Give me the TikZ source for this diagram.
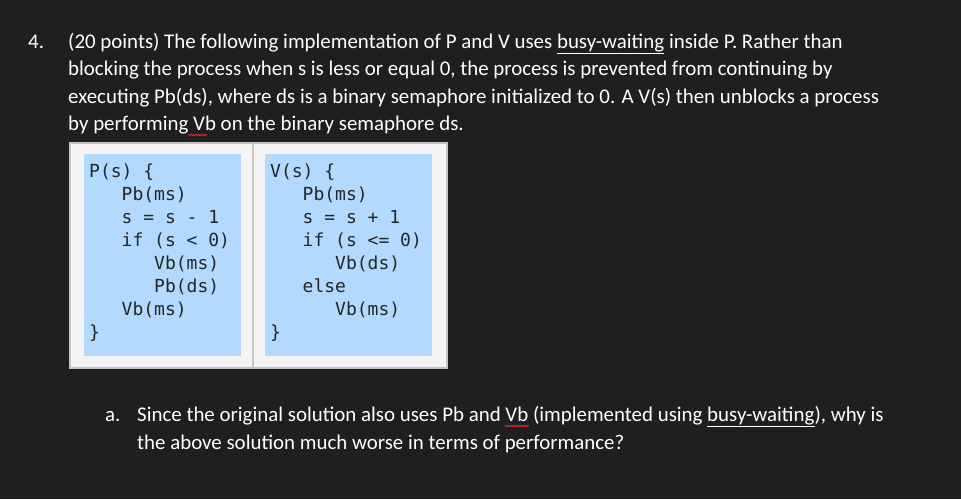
\documentclass[tikz,border=0pt]{standalone}
\usepackage{fontspec}
\setmainfont{Carlito}
\setmonofont{DejaVu Sans Mono}
\usetikzlibrary{decorations.pathmorphing}
\definecolor{bg}{HTML}{1F1F1F}
\definecolor{codebg}{HTML}{B3D9FF}
\definecolor{frame}{HTML}{F4F4F4}
\definecolor{frameline}{HTML}{C4C4C4}
\tikzset{
 txt/.style={anchor=base west,inner sep=0pt,text=white,font=\fontsize{20.9}{22}\selectfont},
 code/.style={anchor=north west,inner sep=0pt,align=left,text=black!85,font=\ttfamily\fontsize{18}{23}\selectfont},
 wavy/.style={red!80!white,line width=0.6pt,decorate,decoration={zigzag,amplitude=0.8pt,segment length=2.5pt}}
}
\begin{document}
\begin{tikzpicture}[x=1pt,y=-1pt]
\fill[bg] (0,0) rectangle (961,499);
\useasboundingbox (0,0) rectangle (961,499);
\node[txt] (n4) at (28,48) {4.};
\node[txt] (l1) at (68,48) {(20 points) The following implementation of P and V uses \underline{busy-waiting} inside P. Rather than};
\node[txt] (l2) at (68,75) {blocking the process when s is less or equal 0, the process is prevented from continuing by};
\node[txt] (l3) at (68,103) {executing Pb(ds), where ds is a binary semaphore initialized to 0. A V(s) then unblocks a process};
\node[txt] (l4) at (68,130) {by performing Vb on the binary semaphore ds.};
\draw[wavy] (188,135) -- (207,135);
% frame
\draw[frameline,fill=frame,line width=1.2pt] (70,143) rectangle (447,368);
\draw[frameline,line width=1.2pt] (253,143) -- (253,368);
\fill[codebg] (84,154) rectangle (241,356);
\fill[codebg] (265,154) rectangle (432,356);
\node[code] (pc) at (89,164) {P(s)\ \{\\
\ \ \ Pb(ms)\\
\ \ \ s = s - 1\\
\ \ \ if (s < 0)\\
\ \ \ \ \ \ Vb(ms)\\
\ \ \ \ \ \ Pb(ds)\\
\ \ \ Vb(ms)\\
\}};
\node[code] (vc) at (270,164) {V(s)\ \{\\
\ \ \ Pb(ms)\\
\ \ \ s = s + 1\\
\ \ \ if (s <= 0)\\
\ \ \ \ \ \ Vb(ds)\\
\ \ \ else\\
\ \ \ \ \ \ Vb(ms)\\
\}};
\node[txt] (na) at (105,421) {a.};
\node[txt] (a1) at (137,421) {Since the original solution also uses Pb and Vb (implemented using \underline{busy-waiting}), why is};
\node[txt] (a2) at (137,449) {the above solution much worse in terms of performance?};
\draw[wavy] (505,426) -- (529,426);
\end{tikzpicture}
\end{document}
